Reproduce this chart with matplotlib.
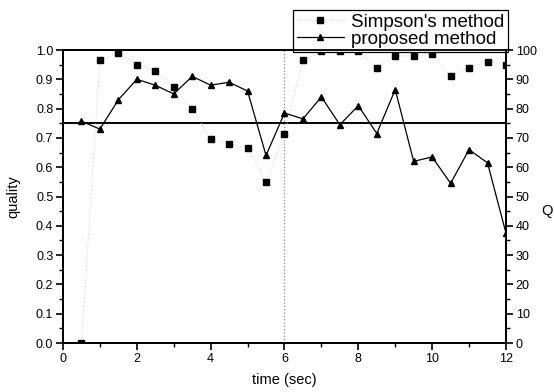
import matplotlib.pyplot as plt
from matplotlib.ticker import MultipleLocator

plt.rcParams['font.family'] = ['Liberation Sans', 'DejaVu Sans']

# sampling instants (sec)
time = [0.5, 1.0, 1.5, 2.0, 2.5, 3.0, 3.5, 4.0, 4.5, 5.0, 5.5, 6.0,
        6.5, 7.0, 7.5, 8.0, 8.5, 9.0, 9.5, 10.0, 10.5, 11.0, 11.5, 12.0]

# Simpson's method quality (left axis)
simpson_quality = [0.0, 0.965, 0.99, 0.95, 0.93, 0.875, 0.80, 0.695, 0.68, 0.665, 0.55, 0.715,
                   0.965, 0.995, 0.995, 0.995, 0.94, 0.98, 0.98, 0.985, 0.91, 0.94, 0.96, 0.95]

# proposed method Q (right axis)
proposed_q = [75.7, 73.0, 83.0, 90.0, 88.0, 85.0, 91.0, 88.0, 89.0, 86.0, 64.0, 78.5,
              76.5, 84.0, 74.5, 81.0, 71.5, 86.5, 62.0, 63.5, 54.5, 66.0, 61.5, 37.5]

threshold = 0.75
split_time = 6

fig = plt.figure(figsize=(5.54, 3.92), dpi=100)
ax = fig.add_axes([0.1137, 0.125, 0.7996, 0.7474])
ax2 = ax.twinx()

l1, = ax.plot(time, simpson_quality, linestyle=':', color='#d4d4d4', linewidth=0.7,
              marker='s', markersize=4, markerfacecolor='black', markeredgecolor='black',
              label="Simpson's method")
l2, = ax2.plot(time, proposed_q, linestyle='-', color='black', linewidth=0.9,
               marker='^', markersize=4.5, markerfacecolor='black', markeredgecolor='black',
               label='proposed method')

ax.axhline(threshold, color='black', linewidth=1.4, zorder=1)
ax.axvline(split_time, color='#888888', linestyle=':', linewidth=0.9, zorder=1)

ax.set_xlim(0, 12)
ax.set_ylim(0, 1.0)
ax2.set_ylim(0, 100)

ax.xaxis.set_major_locator(MultipleLocator(2))
ax.xaxis.set_minor_locator(MultipleLocator(1))
ax.yaxis.set_major_locator(MultipleLocator(0.1))
ax.yaxis.set_minor_locator(MultipleLocator(0.05))
ax2.yaxis.set_major_locator(MultipleLocator(10))
ax2.yaxis.set_minor_locator(MultipleLocator(5))
ax.yaxis.set_major_formatter(plt.FormatStrFormatter('%.1f'))

for a in (ax, ax2):
    a.tick_params(which='major', direction='out', length=5, width=1.2, labelsize=9, pad=2)
    a.tick_params(which='minor', direction='out', length=3, width=1)
    for s in a.spines.values():
        s.set_linewidth(1.3)

ax.set_xlabel('time (sec)', fontsize=10.5, labelpad=6)
ax.set_ylabel('quality', fontsize=10.5, labelpad=11)
ax2.set_ylabel('Q', fontsize=10.5, rotation=0, va='center', ha='center')
ax2.yaxis.set_label_coords(1.0925, 0.45)

leg = ax.legend(handles=[l1, l2], loc='upper right', bbox_to_anchor=(1.005, 1.137),
                fontsize=13.5, frameon=True, fancybox=False, framealpha=1,
                edgecolor='black', borderpad=0.2, handlelength=2.5,
                handletextpad=0.4, labelspacing=0.0, borderaxespad=0)
leg.get_frame().set_linewidth(0.9)
leg.set_zorder(10)

fig.savefig('out.png', dpi=100)
